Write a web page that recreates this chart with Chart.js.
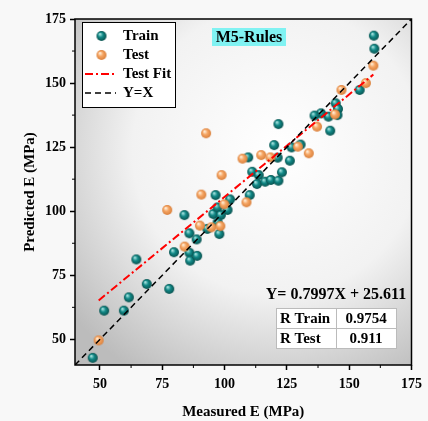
<!DOCTYPE html>
<html>
<head>
<meta charset="utf-8">
<script src="https://cdn.jsdelivr.net/npm/chart.js@4.4.0/dist/chart.umd.min.js"></script>
<style>
  html, body { margin: 0; padding: 0; background: #f8f8f8; }
  #wrap { width: 428px; height: 421px; }
</style>
</head>
<body>
<div id="wrap"><canvas id="c" width="428" height="421"></canvas></div>
<script>
// measured / predicted values
const trainX = [47.1, 51.7, 59.6, 61.6, 68.8, 77.8, 64.6, 79.7, 85.9, 86.2, 89.0, 88.8, 85.9, 83.9, 96.4, 95.5,
  93.1, 121.6, 119.9, 109.5, 121.3, 126.2, 126.9, 130.5, 111.1, 113.7, 113.0, 116.3, 118.6, 121.6, 123.0, 110.1,
  102.2, 97.2, 101.2, 98.5, 97.2, 97.9, 159.9, 160.1, 154.2, 144.6, 145.5, 145.3, 141.7, 138.7, 136.1, 142.4];
const trainY = [42.8, 61.2, 61.2, 66.4, 71.6, 69.7, 81.2, 84.0, 83.8, 80.7, 82.6, 89.0, 91.4, 98.5, 106.3, 98.9,
  93.1, 134.0, 125.8, 121.0, 120.9, 119.7, 124.9, 126.0, 115.4, 114.1, 110.6, 111.5, 112.2, 111.9, 115.2, 106.3,
  104.6, 101.5, 100.5, 98.5, 95.7, 91.1, 168.5, 163.4, 147.3, 142.1, 139.9, 137.5, 136.9, 138.2, 137.3, 131.4];

const testX = [49.5, 84.0, 77.0, 90.7, 90.1, 94.7, 92.6, 114.7, 107.2, 118.4, 129.4, 98.8, 108.8, 99.9, 98.3,
  159.7, 156.7, 146.9, 144.3, 137.1, 133.8];
const testY = [49.6, 86.2, 100.5, 106.5, 94.4, 93.7, 130.4, 121.9, 120.5, 121.0, 125.2, 114.1, 103.5, 102.7, 94.2,
  156.8, 150.0, 147.3, 137.8, 133.0, 122.6];

const fitSlope = 0.7997;
const fitIntercept = 25.611;
const rTrain = '0.9754';
const rTest = '0.911';
const modelName = 'M5-Rules';

const axisMin = 40;
const axisMax = 175;
const majorTicks = [50, 75, 100, 125, 150, 175];
const minorTicks = [62.5, 87.5, 112.5, 137.5, 162.5];

const serif = '"Liberation Serif", "DejaVu Serif", serif';

// small shaded ball used as point style
function ball(base, light, dark) {
  const r = 5;
  const cv = document.createElement('canvas');
  cv.width = 12; cv.height = 12;
  const g = cv.getContext('2d');
  const grad = g.createRadialGradient(4.3, 4, 0.4, 6, 6, r);
  grad.addColorStop(0, light);
  grad.addColorStop(0.45, base);
  grad.addColorStop(1, dark);
  g.fillStyle = grad;
  g.beginPath();
  g.arc(6, 6, r, 0, Math.PI * 2);
  g.fill();
  return cv;
}
const tealBall = ball('#128a88', '#a8e4e0', '#09524f');
const orangeBall = ball('#f6a664', '#fff0dc', '#d9803c');

const fitFrom = Math.min(...testX);
const fitTo = Math.max(...testX);

const decor = {
  id: 'decor',
  beforeDraw(chart) {
    const { ctx, chartArea: a } = chart;
    ctx.save();
    ctx.fillStyle = '#f8f8f8';
    ctx.fillRect(0, 0, chart.width, chart.height);
    const w = a.right - a.left, h = a.bottom - a.top;
    const gr = ctx.createRadialGradient(a.left + 0.6 * w, a.top + 0.38 * h, 0, a.left + 0.6 * w, a.top + 0.38 * h, 0.78 * w);
    gr.addColorStop(0, '#ffffff');
    gr.addColorStop(0.55, '#f2f2f2');
    gr.addColorStop(1, '#bcbcbc');
    ctx.fillStyle = gr;
    ctx.fillRect(a.left, a.top, w, h);
    ctx.restore();
  },
  afterDraw(chart) {
    const { ctx, chartArea: a, scales } = chart;
    ctx.save();
    // frame
    ctx.strokeStyle = '#000';
    ctx.lineWidth = 1.5;
    ctx.strokeRect(a.left, a.top, a.right - a.left, a.bottom - a.top);

    // minor ticks
    ctx.lineWidth = 1;
    minorTicks.forEach(v => {
      const px = scales.x.getPixelForValue(v);
      ctx.beginPath(); ctx.moveTo(px, a.bottom); ctx.lineTo(px, a.bottom + 3); ctx.stroke();
      const py = scales.y.getPixelForValue(v);
      ctx.beginPath(); ctx.moveTo(a.left, py); ctx.lineTo(a.left - 3, py); ctx.stroke();
    });

    // axis titles
    ctx.fillStyle = '#000';
    ctx.font = 'bold 15px ' + serif;
    ctx.textAlign = 'center';
    ctx.textBaseline = 'middle';
    ctx.fillText('Measured E (MPa)', (a.left + a.right) / 2, 412);
    ctx.save();
    ctx.translate(30, (a.top + a.bottom) / 2);
    ctx.rotate(-Math.PI / 2);
    ctx.fillText('Predicted E (MPa)', 0, 0);
    ctx.restore();

    // legend
    ctx.fillStyle = '#fff';
    ctx.fillRect(82.5, 22.5, 93, 85);
    ctx.strokeStyle = '#000';
    ctx.lineWidth = 1;
    ctx.strokeRect(82.5, 22.5, 93, 85);
    ctx.drawImage(tealBall, 101.5 - 6, 36 - 6);
    ctx.drawImage(orangeBall, 101.5 - 6, 55 - 6);
    ctx.lineWidth = 2;
    ctx.strokeStyle = '#ff0000';
    ctx.setLineDash([8, 3, 2, 3]);
    ctx.beginPath(); ctx.moveTo(85, 74); ctx.lineTo(116, 74); ctx.stroke();
    ctx.strokeStyle = '#000';
    ctx.lineWidth = 1.5;
    ctx.setLineDash([6, 4]);
    ctx.beginPath(); ctx.moveTo(85, 93); ctx.lineTo(116, 93); ctx.stroke();
    ctx.setLineDash([]);
    ctx.fillStyle = '#000';
    ctx.font = 'bold 15px ' + serif;
    ctx.textAlign = 'left';
    ctx.fillText('Train', 123, 36);
    ctx.fillText('Test', 123, 55);
    ctx.fillText('Test Fit', 123, 74);
    ctx.fillText('Y=X', 123, 93);

    // model name box
    ctx.fillStyle = '#80f2f2';
    ctx.fillRect(212, 28, 74, 18);
    ctx.fillStyle = '#000';
    ctx.font = 'bold 16px ' + serif;
    ctx.textAlign = 'center';
    ctx.fillText(modelName, 249, 37.5);

    // equation + table
    ctx.font = 'bold 16px ' + serif;
    ctx.fillText('Y= ' + fitSlope + 'X + ' + fitIntercept, 336, 295);
    ctx.fillStyle = '#fff';
    ctx.fillRect(276, 308, 121, 41);
    ctx.strokeStyle = '#bbb';
    ctx.lineWidth = 1;
    ctx.strokeRect(276.5, 308.5, 120, 40);
    ctx.beginPath();
    ctx.moveTo(276.5, 328.5); ctx.lineTo(396.5, 328.5);
    ctx.moveTo(336.5, 308.5); ctx.lineTo(336.5, 348.5);
    ctx.stroke();
    ctx.fillStyle = '#000';
    ctx.font = 'bold 15px ' + serif;
    ctx.textAlign = 'left';
    ctx.fillText('R Train', 280, 319);
    ctx.fillText('R Test', 280, 339);
    ctx.textAlign = 'center';
    ctx.fillText(rTrain, 366, 319);
    ctx.fillText(rTest, 366, 339);
    ctx.restore();
  }
};

function axis(isX) {
  return {
    type: 'linear',
    min: axisMin,
    max: axisMax,
    afterBuildTicks(s) {
      s.ticks = majorTicks.concat(minorTicks).sort((p, q) => p - q).map(v => ({ value: v }));
    },
    afterFit(s) {
      if (isX) s.height = 56; else s.width = 75;
    },
    ticks: {
      autoSkip: false,
      maxRotation: 0,
      color: '#000',
      padding: isX ? 6 : 4,
      font: { family: serif, size: 14, weight: 'bold' },
      callback: v => majorTicks.includes(v) ? v : ''
    },
    grid: {
      drawOnChartArea: false,
      drawTicks: true,
      tickLength: 5,
      tickWidth: 1.5,
      tickColor: c => majorTicks.includes(c.tick && c.tick.value) ? '#000' : 'rgba(0,0,0,0)'
    },
    border: { display: false }
  };
}

new Chart(document.getElementById('c'), {
  type: 'scatter',
  data: {
    datasets: [
      {
        label: 'Y=X',
        type: 'line',
        data: [{ x: axisMin, y: axisMin }, { x: axisMax, y: axisMax }],
        borderColor: '#000',
        borderWidth: 1.5,
        borderDash: [6, 4],
        pointRadius: 0,
        order: 0
      },
      {
        label: 'Test Fit',
        type: 'line',
        data: [{ x: fitFrom, y: fitSlope * fitFrom + fitIntercept }, { x: fitTo, y: fitSlope * fitTo + fitIntercept }],
        borderColor: '#ff0000',
        borderWidth: 2,
        borderDash: [8, 3, 2, 3],
        pointRadius: 0,
        order: 0
      },
      {
        label: 'Test',
        data: testX.map((x, i) => ({ x: x, y: testY[i] })),
        pointStyle: orangeBall,
        order: 1
      },
      {
        label: 'Train',
        data: trainX.map((x, i) => ({ x: x, y: trainY[i] })),
        pointStyle: tealBall,
        order: 2
      }
    ]
  },
  options: {
    responsive: false,
    devicePixelRatio: 1,
    animation: false,
    layout: { padding: { top: 19, right: 11, left: 0, bottom: 0 } },
    plugins: { legend: { display: false }, tooltip: { enabled: false } },
    scales: { x: axis(true), y: axis(false) }
  },
  plugins: [decor]
});
</script>
</body>
</html>
